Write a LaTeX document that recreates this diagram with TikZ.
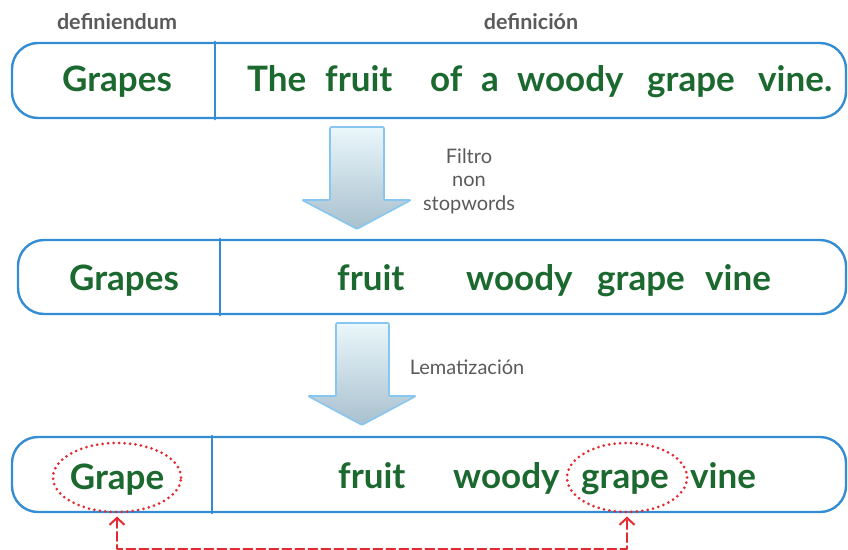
\documentclass[tikz,border=0pt]{standalone}
\usepackage{fontspec}
\setmainfont{Lato}
\usepackage{tikz}
\usetikzlibrary{arrows.meta}
\usetikzlibrary{calc}
\usetikzlibrary{shapes.geometric}
\definecolor{boxBlue}{RGB}{52,141,211}
\definecolor{wordGreen}{RGB}{28,105,48}
\definecolor{labelGray}{RGB}{90,90,90}
\definecolor{markRed}{RGB}{226,42,48}
\definecolor{arrowTop}{RGB}{234,247,251}
\definecolor{arrowBot}{RGB}{168,192,206}
\definecolor{arrowEdge}{RGB}{135,198,240}
\tikzset{
	rowbox/.style={draw=boxBlue, line width=2.4pt, rounded corners=26pt, inner sep=0pt},
	divider/.style={boxBlue, line width=2.4pt},
	word/.style={text=wordGreen, font=\fontsize{35}{38}\selectfont\bfseries, inner sep=0pt, anchor=base west},
	headword/.style={text=wordGreen, font=\fontsize{35}{38}\selectfont\bfseries, inner sep=0pt, anchor=base},
	colhead/.style={text=labelGray, font=\fontsize{21.5}{24}\selectfont\bfseries},
	steplabel/.style={text=labelGray, font=\fontsize{20}{23.5}\selectfont, align=center},
	blockarrow/.style={draw=arrowEdge, line width=1.6pt, top color=arrowTop, bottom color=arrowBot, rounded corners=1pt},
	ringmark/.style={ellipse, draw=markRed, line width=3pt, dash pattern=on 0pt off 5.5pt, line cap=round, inner sep=0pt},
	linkmark/.style={markRed, line width=2pt, dash pattern=on 9pt off 4pt, {Straight Barb[length=7pt,width=15pt]}-{Straight Barb[length=7pt,width=15pt]}}
}

\begin{document}
\begin{tikzpicture}[x=1pt, y=-1pt, line cap=round, line join=round]
		
		\useasboundingbox (0,0) rectangle (848,549);
		
		% ---- Column headers ----
		\node[colhead] (hdA) at (117,22) {definiendum};
		\node[colhead] (hdB) at (531,22) {definición};
		
		% ---- Row boxes ----
		\node[rowbox, minimum width=834, minimum height=75] (rowA) at (429,80.5) {};
		\node[rowbox, minimum width=828, minimum height=74] (rowB) at (432,277) {};
		\node[rowbox, minimum width=834, minimum height=75] (rowC) at (429,474.5) {};
		\draw[divider] (rowA.north -| 215,0) -- (rowA.south -| 215,0);
		\draw[divider] (rowB.north -| 220,0) -- (rowB.south -| 220,0);
		\draw[divider] (rowC.north -| 212,0) -- (rowC.south -| 212,0);
		
		% ---- Row 1: original definition ----
		\node[headword] (termA) at (117,91) {Grapes};
		\foreach \w/\x [count=\i] in {The/247, fruit/325, of/430, a/481, woody/517, grape/647, vine./758}
		\node[word] (defA\i) at (\x,91) {\w};
		
		% ---- Row 2: without stopwords ----
		\node[headword] (termB) at (124,290) {Grapes};
		\foreach \w/\x [count=\i] in {fruit/337, woody/466, grape/597, vine/705}
		\node[word] (defB\i) at (\x,290) {\w};
		
		% ---- Row 3: lemmas ----
		\node[headword] (termC) at (117,489) {Grape};
		\foreach \w/\x [count=\i] in {fruit/338, woody/453, grape/581, vine/690}
		\node[word] (defC\i) at (\x,488) {\w};
		
		% ---- Block arrows between rows ----
		\shadedraw[blockarrow] (330,127) -- (384,127) -- (384,200) -- (411,200) -- (357,229) -- (302,200) -- (330,200) -- cycle;
		\shadedraw[blockarrow] (336,323) -- (389,323) -- (389,396) -- (416,396) -- (362,425) -- (308,396) -- (336,396) -- cycle;
		\node[steplabel] (stepA) at (469,181) {Filtro\\non\\stopwords};
		\node[steplabel] (stepB) at (467,367) {Lematización};
		
		% ---- Matching lemma marks ----
		\node[ringmark, minimum width=128, minimum height=69] (ringA) at (117,477.5) {};
		\node[ringmark, minimum width=120, minimum height=69] (ringB) at (627,477.5) {};
		\coordinate (linkA) at ($(ringA.south)+(0,35)$);
		\draw[linkmark] ($(ringA.south)+(0,3)$) -- (linkA) -| ($(ringB.south)+(0,3)$);
		
	\end{tikzpicture}
\end{document}
